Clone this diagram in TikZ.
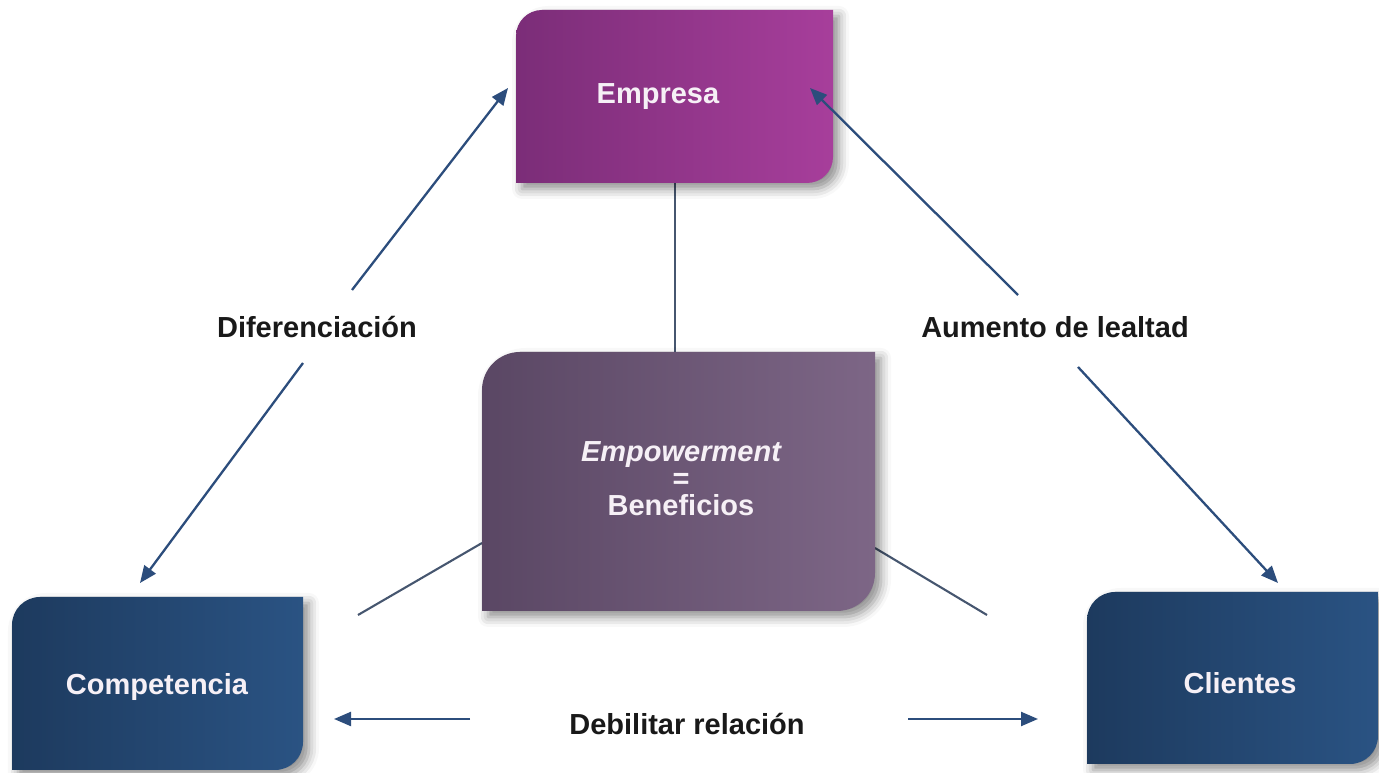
\documentclass[tikz,border=0pt]{standalone}
\usepackage{fontspec}
\setmainfont{Liberation Sans}
\usetikzlibrary{arrows.meta,shadows.blur}
\definecolor{arrowblue}{HTML}{2C4D7C}
\definecolor{linegray}{HTML}{46566F}
\definecolor{txtwhite}{HTML}{F6F0F6}
\definecolor{empL}{HTML}{7B2D78}
\definecolor{empR}{HTML}{A73E9B}
\definecolor{powL}{HTML}{5A4764}
\definecolor{powR}{HTML}{7D6686}
\definecolor{bluL}{HTML}{1D3A5E}
\definecolor{bluR}{HTML}{2A5383}
\tikzset{
  x=1pt,y=1pt,
  boxnode/.style={inner sep=0pt,outer sep=0pt},
  boxtext/.style={text=txtwhite,font=\bfseries\fontsize{29}{27}\selectfont,align=center,inner sep=0pt},
  lbl/.style={text=black!90,font=\bfseries\fontsize{29}{27}\selectfont,inner sep=0pt},
  arr/.style={draw=arrowblue,line width=2.3pt,-{Triangle[length=17pt,width=14pt]}},
  thin/.style={draw=linegray,line width=2.1pt},
  shd/.style={blur shadow={shadow xshift=6pt,shadow yshift=-6pt,shadow blur radius=10pt,shadow opacity=45}}
}
\newcommand\cutbox[3]{%
  \path[#3] (#1.south west) -- ([yshift=-#2]#1.north west)
    arc[start angle=180,end angle=90,radius=#2] -- (#1.north east)
    -- ([yshift=#2]#1.south east)
    arc[start angle=0,end angle=-90,radius=#2] -- cycle;}
\begin{document}
\begin{tikzpicture}
\useasboundingbox (0,0) rectangle (1379,773);
% box frames
\node[boxnode,minimum width=317pt,minimum height=173pt] (empresa) at (674.5,676.5) {};
\node[boxnode,minimum width=393pt,minimum height=259pt] (emp) at (678.5,291.5) {};
\node[boxnode,minimum width=291pt,minimum height=173pt] (comp) at (157.5,89.5) {};
\node[boxnode,minimum width=291pt,minimum height=172pt] (cli) at (1232.5,95) {};
% connectors (behind boxes)
\draw[thin] (675,0 |- empresa.south) -- (675,0 |- emp.north);
\coordinate (l2e) at (358,158);
\coordinate (l3e) at (987,158);
\draw[thin] (482,230) coordinate (l2s) -- (l2e);
\draw[thin] (875,225) coordinate (l3s) -- (l3e);
% boxes
\cutbox{empresa}{26pt}{shd,left color=empL,right color=empR}
\cutbox{emp}{38pt}{shd,left color=powL,right color=powR}
\cutbox{comp}{28pt}{shd,left color=bluL,right color=bluR}
\cutbox{cli}{28pt}{shd,left color=bluL,right color=bluR}
% texts
\node[boxtext] (empresa-t) at (658,676) {Empresa};
\node[boxtext] (emp-t) at (681,294) {\itshape Empowerment\\=\\Beneficios};
\node[boxtext] (comp-t) at (157,86) {Competencia};
\node[boxtext] (cli-t) at (1240,90) {Clientes};
% labels
\node[lbl] (dif) at (317,446) {Diferenciación};
\node[lbl] (aum) at (1055,446) {Aumento de lealtad};
\node[lbl] (deb) at (687,49) {Debilitar relación};
% arrows
\coordinate (a1s) at (352,483); \coordinate (a1t) at (508,685);
\coordinate (a2s) at (303,410); \coordinate (a2t) at (140,190);
\coordinate (a3s) at (1018,478); \coordinate (a3t) at (810,685);
\coordinate (a4s) at (1078,406); \coordinate (a4t) at (1278,190);
\coordinate (a5s) at (470,54); \coordinate (a5t) at (334,54);
\coordinate (a6s) at (908,54); \coordinate (a6t) at (1038,54);
\draw[arr] (a1s) -- (a1t);
\draw[arr] (a2s) -- (a2t);
\draw[arr] (a3s) -- (a3t);
\draw[arr] (a4s) -- (a4t);
\draw[arr] (a5s) -- (a5t);
\draw[arr] (a6s) -- (a6t);
\end{tikzpicture}
\end{document}
